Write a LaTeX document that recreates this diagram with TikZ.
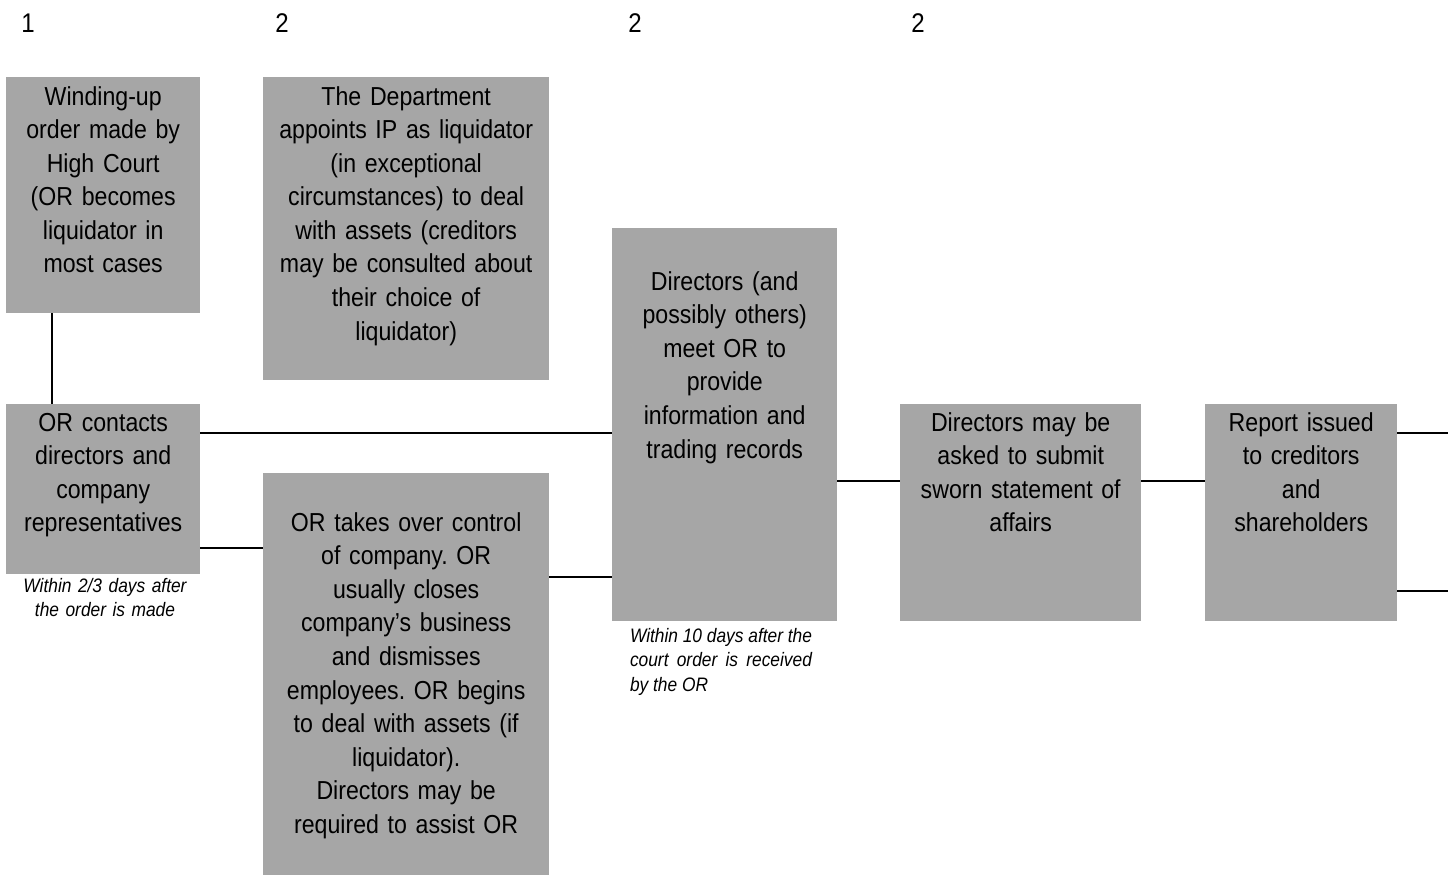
\documentclass[tikz,border=0pt]{standalone}
\usepackage{fontspec}
\setmainfont{Liberation Sans}[FakeStretch=0.89]
\frenchspacing
\definecolor{boxgray}{RGB}{166,166,166}
\tikzset{
  box/.style={fill=boxgray, draw=none, inner sep=0pt, anchor=north west},
  txt/.style={inner sep=0pt, anchor=base, align=center,
    font=\fontsize{26}{33.6}\selectfont\frenchspacing},
  note/.style={inner sep=0pt, anchor=base, font=\fontsize{19.5}{24.5}\selectfont\itshape\frenchspacing},
  num/.style={inner sep=0pt, anchor=base, font=\fontsize{27}{32}\selectfont},
  conn/.style={line width=2pt, black}
}
\begin{document}
\begin{tikzpicture}[x=1pt,y=-1pt]
\useasboundingbox[fill=white] (0,0) rectangle (1448,875);
% step numbers
\node[num] (k1) at (28,33) {1};
\node[num] (k2) at (282,33) {2};
\node[num] (k3) at (635,33) {2};
\node[num] (k4) at (918,33) {2};
% boxes
\node[box, minimum width=194pt, minimum height=236pt] (b1) at (6,77) {};
\node[box, minimum width=286pt, minimum height=303pt] (b2) at (263,77) {};
\node[box, minimum width=194pt, minimum height=170pt] (b3) at (6,404) {};
\node[box, minimum width=286pt, minimum height=402pt] (b4) at (263,473) {};
\node[box, minimum width=225pt, minimum height=393pt] (b5) at (612,228) {};
\node[box, minimum width=241pt, minimum height=217pt] (b6) at (900,404) {};
\node[box, minimum width=192pt, minimum height=217pt] (b7) at (1205,404) {};
% box texts
\node[txt, text width=194pt] (t1) at ([yshift=-28pt]b1.north) {Winding-up\\order made by\\High Court\\(OR becomes\\liquidator in\\most cases};
\node[txt, text width=286pt] (t2) at ([yshift=-28pt]b2.north) {The Department\\appoints IP as liquidator\\(in exceptional\\circumstances) to deal\\with assets (creditors\\may be consulted about\\their choice of\\liquidator)};
\node[txt, text width=194pt] (t3) at ([yshift=-27pt]b3.north) {OR contacts\\directors and\\company\\representatives};
\node[txt, text width=286pt] (t4) at ([yshift=-58pt]b4.north) {OR takes over control\\of company. OR\\usually closes\\company’s business\\and dismisses\\employees. OR begins\\to deal with assets (if\\liquidator).\\Directors may be\\required to assist OR};
\node[txt, text width=225pt] (t5) at ([yshift=-62pt]b5.north) {Directors (and\\possibly others)\\meet OR to\\provide\\information and\\trading records};
\node[txt, text width=241pt] (t6) at ([yshift=-27pt]b6.north) {Directors may be\\asked to submit\\sworn statement of\\affairs};
\node[txt, text width=192pt] (t7) at ([yshift=-27pt]b7.north) {Report issued\\to creditors\\and\\shareholders};
% notes
\node[note, align=center, text width=190pt] (n1) at (105,592) {Within 2/3 days after\\the order is made};
\node[note, align=justify, text width=182pt] (n2) at (721,642) {Within 10 days after the\linebreak court order is received\linebreak by the OR};
% connectors
\coordinate (e1) at (1448,433);
\coordinate (e2) at (1448,591);
\draw[conn] ([xshift=-51pt]b1.south) -- ([xshift=-51pt]b3.north);
\draw[conn] ([yshift=-29pt]b3.north east) -- ([yshift=-29pt]b3.north east -| b5.west);
\draw[conn] ([yshift=-144pt]b3.north east) -- ([yshift=-144pt]b3.north east -| b4.west);
\draw[conn] ([yshift=-104pt]b4.north east) -- ([yshift=-104pt]b4.north east -| b5.west);
\draw[conn] ([yshift=-77pt]b6.north west -| b5.east) -- ([yshift=-77pt]b6.north west);
\draw[conn] ([yshift=-77pt]b6.north east) -- ([yshift=-77pt]b6.north east -| b7.west);
\draw[conn] (e1 -| b7.east) -- (e1);
\draw[conn] (e2 -| b7.east) -- (e2);
\end{tikzpicture}
\end{document}
